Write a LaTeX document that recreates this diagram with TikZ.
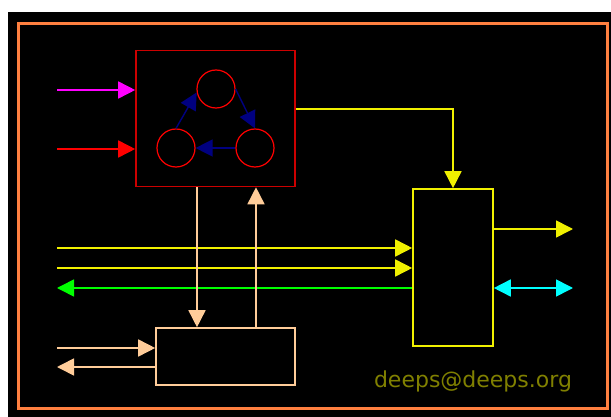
\documentclass[tikz,border=0pt]{standalone}
\usepackage{fontspec}
\newfontfamily\mailfont{DejaVu Sans}
\usetikzlibrary{arrows.meta}
\definecolor{frameorange}{HTML}{FF8040}
\definecolor{boxred}{HTML}{CC0000}
\definecolor{ringred}{HTML}{FF0000}
\definecolor{peach}{HTML}{FFCC99}
\definecolor{lineyellow}{HTML}{F0F000}
\definecolor{mailolive}{HTML}{808000}
\definecolor{pinkin}{HTML}{FF00FF}
\definecolor{busgreen}{HTML}{00FF00}
\definecolor{buscyan}{HTML}{00FFFF}
\definecolor{statenavy}{HTML}{000080}
\tikzset{
  blk/.style={draw, rectangle, line width=1.6pt, inner sep=0pt, fill=black},
  ring/.style={draw=ringred, circle, line width=1.2pt, minimum size=38pt, inner sep=0pt},
  wire/.style={line width=1.6pt, -{Triangle[length=17pt,width=17pt]}},
  wire2/.style={line width=1.6pt, {Triangle[length=17pt,width=17pt]}-{Triangle[length=17pt,width=17pt]}},
}
\begin{document}
\begin{tikzpicture}[x=1pt,y=-1pt]
\useasboundingbox (0,0) rectangle (611,417);
\fill[white] (0,0) rectangle (611,417);
\fill[black] (8,12) rectangle (611,417);
\draw[frameorange, line width=3pt] (18.5,23.5) rectangle (607.5,408.5);
% blocks
\node[blk, draw=boxred, minimum width=159pt, minimum height=136pt] (ctrl) at (215.5,118.5) {};
\node[blk, draw=lineyellow, minimum width=80pt, minimum height=157pt] (mux) at (453,267.5) {};
\node[blk, draw=peach, minimum width=139pt, minimum height=57pt] (io) at (225.5,356.5) {};
% state ring
\node[ring] (s1) at (216,89) {};
\node[ring] (s2) at (255,148) {};
\node[ring] (s3) at (176,148) {};
\draw[wire, statenavy, line width=1.4pt] (s1.east) -- (s2.north);
\draw[wire, statenavy, line width=1.4pt] (s2.west) -- (s3.east);
\draw[wire, statenavy, line width=1.4pt] (s3.north) -- (s1.190);
% inputs to control block
\coordinate (inA) at (57,90);
\coordinate (inB) at (57,149);
\draw[wire, pinkin] (inA) -- (inA -| ctrl.west);
\draw[wire, ringred] (inB) -- (inB -| ctrl.west);
\coordinate (outC) at (0,109);
\draw[wire, lineyellow] (outC -| ctrl.east) -| (mux.north);
% buses into mux
\coordinate (busA) at (57,248);
\coordinate (busB) at (57,268);
\coordinate (busG) at (57,288);
\draw[wire, lineyellow] (busA) -- (busA -| mux.west);
\draw[wire, lineyellow] (busB) -- (busB -| mux.west);
\draw[wire, busgreen] (busG -| mux.west) -- (busG);
% mux outputs
\coordinate (outY) at (573,229);
\coordinate (outZ) at (573,288);
\draw[wire, lineyellow] (outY -| mux.east) -- (outY);
\draw[wire2, buscyan] (outZ -| mux.east) -- (outZ);
% control <-> io
\coordinate (dn) at (197,0);
\coordinate (up) at (256,0);
\draw[wire, peach] (dn |- ctrl.south) -- (dn |- io.north);
\draw[wire, peach] (up |- io.north) -- (up |- ctrl.south);
\coordinate (ioA) at (57,348);
\coordinate (ioB) at (57,367);
\draw[wire, peach] (ioA) -- (ioA -| io.west);
\draw[wire, peach] (ioB -| io.west) -- (ioB);
\node[mailolive, font=\mailfont\fontsize{22}{22}\selectfont] (mail) at (473,381) {deeps@deeps.org};
\end{tikzpicture}
\end{document}
